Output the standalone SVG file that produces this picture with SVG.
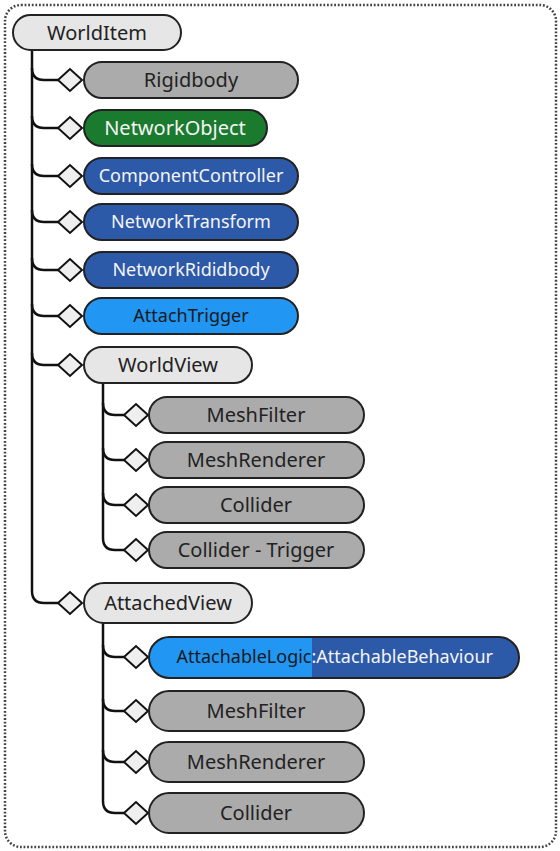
<svg xmlns="http://www.w3.org/2000/svg" width="560" height="851" viewBox="0 0 560 851">
<style>
text{font-family:"Noto Sans","Open Sans","DejaVu Sans",sans-serif;text-anchor:middle}
.box{stroke:#222;stroke-width:2}
.lg{fill:#e6e6e6}
.gr{fill:#ababab}
.gn{fill:#1a7a2e}
.db{fill:#2d59a9}
.lb{fill:#2196f3}
.t20{font-size:20px;fill:#222}
.t18{font-size:18px}
.w{fill:#f4f4f4}
.k{fill:#1a1a1a}
.ln{fill:none;stroke:#111;stroke-width:2.5}
.dm{fill:#efefef;stroke:#111;stroke-width:2}
</style>
<rect x="5" y="5" width="551" height="842" rx="16" fill="#fff" stroke="#444" stroke-width="2.5" stroke-dasharray="1.8 1.8"/>
<g id="connectors">
<path class="ln" d="M32,50 V591 Q32,603 44,603 H58"/>
<path class="ln" d="M32,68 Q32,80 44,80 H58"/>
<path class="ln" d="M32,116 Q32,128 44,128 H58"/>
<path class="ln" d="M32,164 Q32,176 44,176 H58"/>
<path class="ln" d="M32,210 Q32,222 44,222 H58"/>
<path class="ln" d="M32,258 Q32,270 44,270 H58"/>
<path class="ln" d="M32,304 Q32,316 44,316 H58"/>
<path class="ln" d="M32,353 Q32,365 44,365 H58"/>
<path class="ln" d="M103,383 V538 Q103,550 115,550 H124"/>
<path class="ln" d="M103,403 Q103,415 115,415 H124"/>
<path class="ln" d="M103,448 Q103,460 115,460 H124"/>
<path class="ln" d="M103,493 Q103,505 115,505 H124"/>
<path class="ln" d="M103,623 V801 Q103,813 115,813 H124"/>
<path class="ln" d="M103,645 Q103,657 115,657 H124"/>
<path class="ln" d="M103,699 Q103,711 115,711 H124"/>
<path class="ln" d="M103,750 Q103,762 115,762 H124"/>
<polygon class="dm" points="58,80 70,69 82,80 70,91"/>
<polygon class="dm" points="58,128 70,117 82,128 70,139"/>
<polygon class="dm" points="58,176 70,165 82,176 70,187"/>
<polygon class="dm" points="58,222 70,211 82,222 70,233"/>
<polygon class="dm" points="58,270 70,259 82,270 70,281"/>
<polygon class="dm" points="58,316 70,305 82,316 70,327"/>
<polygon class="dm" points="58,365 70,354 82,365 70,376"/>
<polygon class="dm" points="58,603 70,592 82,603 70,614"/>
<polygon class="dm" points="124,415 136,404 148,415 136,426"/>
<polygon class="dm" points="124,460 136,449 148,460 136,471"/>
<polygon class="dm" points="124,505 136,494 148,505 136,516"/>
<polygon class="dm" points="124,550 136,539 148,550 136,561"/>
<polygon class="dm" points="124,657 136,646 148,657 136,668"/>
<polygon class="dm" points="124,711 136,700 148,711 136,722"/>
<polygon class="dm" points="124,762 136,751 148,762 136,773"/>
<polygon class="dm" points="124,813 136,802 148,813 136,824"/>
</g>
<g id="WorldItem"><rect class="box lg" x="13" y="15" width="168" height="35" rx="17.5"/><text class="t20" x="97" y="40">WorldItem</text></g>
<g id="Rigidbody"><rect class="box gr" x="84" y="62" width="214" height="36" rx="18"/><text class="t20" x="191" y="87">Rigidbody</text></g>
<g id="NetworkObject"><rect class="box gn" x="84" y="110" width="183" height="36" rx="18"/><text class="t20 w" x="175" y="135">NetworkObject</text></g>
<g id="ComponentController"><rect class="box db" x="84" y="158" width="214" height="36" rx="18"/><text class="t18 w" x="191" y="182">ComponentController</text></g>
<g id="NetworkTransform"><rect class="box db" x="84" y="204" width="214" height="36" rx="18"/><text class="t18 w" x="191" y="228">NetworkTransform</text></g>
<g id="NetworkRididbody"><rect class="box db" x="84" y="252" width="214" height="36" rx="18"/><text class="t18 w" x="191" y="276">NetworkRididbody</text></g>
<g id="AttachTrigger"><rect class="box lb" x="84" y="298" width="214" height="36" rx="18"/><text class="t18 k" x="191" y="322">AttachTrigger</text></g>
<g id="WorldView"><rect class="box lg" x="84" y="347" width="168" height="36" rx="18"/><text class="t20" x="168" y="372">WorldView</text></g>
<g id="WV_MeshFilter"><rect class="box gr" x="149" y="397" width="215" height="36" rx="18"/><text class="t20" x="256" y="422">MeshFilter</text></g>
<g id="WV_MeshRenderer"><rect class="box gr" x="149" y="442" width="215" height="36" rx="18"/><text class="t20" x="256" y="467">MeshRenderer</text></g>
<g id="WV_Collider"><rect class="box gr" x="149" y="487" width="215" height="36" rx="18"/><text class="t20" x="256" y="512">Collider</text></g>
<g id="WV_ColliderTrigger"><rect class="box gr" x="149" y="532" width="215" height="36" rx="18"/><text class="t20" x="256" y="557">Collider - Trigger</text></g>
<g id="AttachedView"><rect class="box lg" x="84" y="583" width="168" height="40" rx="20"/><text class="t20" x="168" y="610">AttachedView</text></g>
<g id="AttachableLogic">
<clipPath id="alc"><rect x="149" y="637" width="370" height="41" rx="20.5"/></clipPath>
<g clip-path="url(#alc)"><rect class="lb" x="149" y="637" width="163" height="41"/><rect class="db" x="312" y="637" width="207" height="41"/></g>
<rect x="149" y="637" width="370" height="41" rx="20.5" fill="none" stroke="#222" stroke-width="2"/>
<text class="t18" x="176.5" y="663" style="text-anchor:start"><tspan class="k">AttachableLogic</tspan><tspan class="w">:AttachableBehaviour</tspan></text>
</g>
<g id="AV_MeshFilter"><rect class="box gr" x="149" y="691" width="215" height="40" rx="20"/><text class="t20" x="256" y="718">MeshFilter</text></g>
<g id="AV_MeshRenderer"><rect class="box gr" x="149" y="742" width="215" height="40" rx="20"/><text class="t20" x="256" y="769">MeshRenderer</text></g>
<g id="AV_Collider"><rect class="box gr" x="149" y="793" width="215" height="40" rx="20"/><text class="t20" x="256" y="820">Collider</text></g>
</svg>
